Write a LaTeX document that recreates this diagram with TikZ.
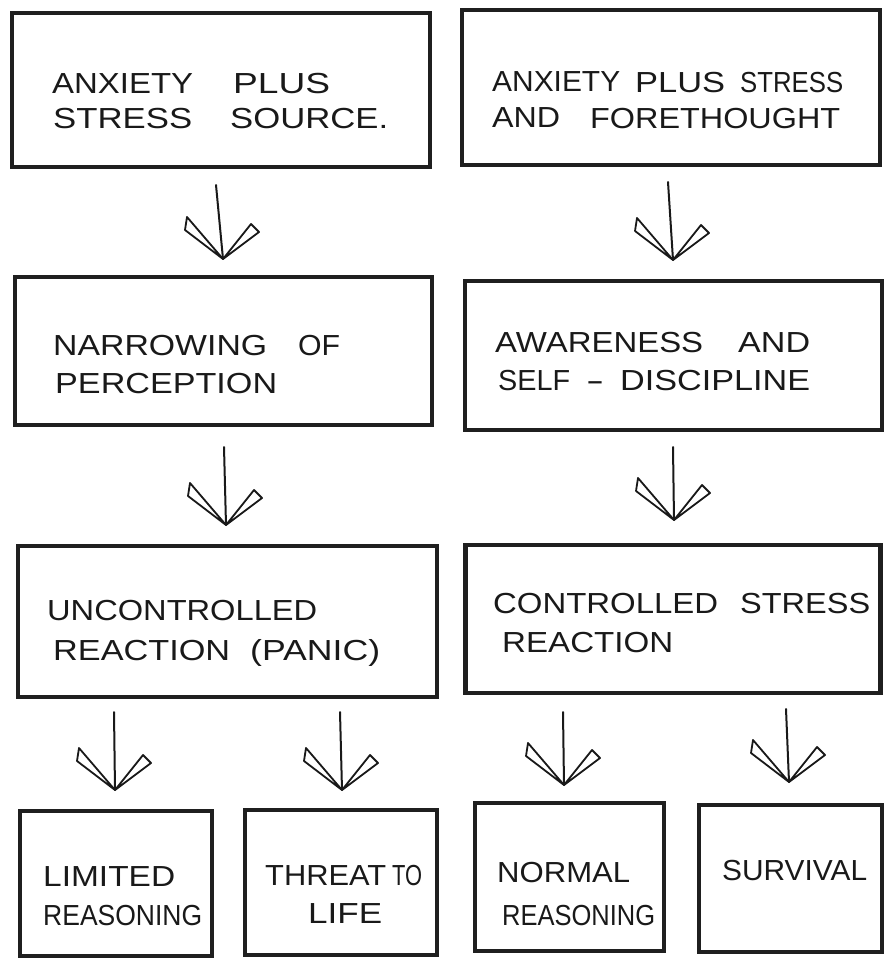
\documentclass[tikz,border=0pt]{standalone}
\usepackage{graphicx}
\usepackage{fontspec}
\setmainfont{Liberation Sans}
\newcommand\sw[2]{\resizebox{#1pt}{\height}{#2}}
\newcommand\hdarrow[2]{%
  \draw[shaft] (#1) -- (#2);
  \draw[fin] (#2) -- ++(-38,-29) -- ++(2,-13) -- cycle;
  \draw[fin] (#2) -- ++(28,-35) -- ++(8,8) -- cycle;}
\begin{document}
\begin{tikzpicture}[x=1pt,y=-1pt,
  box/.style={draw=black!88, line width=4.5pt, rectangle, inner sep=0pt},
  lbl/.style={anchor=base west, inner sep=0pt, font=\fontsize{29}{35}\selectfont, text=black!90},
  shaft/.style={draw=black!90, line width=2pt, line cap=round},
  fin/.style={draw=black!90, line width=1.8pt, line join=round}]
\useasboundingbox (0,0) rectangle (884,958);
% boxes
\node[box, minimum width=418pt, minimum height=154pt] (b1) at (221,90) {};
\node[box, minimum width=418pt, minimum height=155pt] (b2) at (671,87.5) {};
\node[box, minimum width=417pt, minimum height=148pt] (b3) at (223.5,351) {};
\node[box, minimum width=417pt, minimum height=149pt] (b4) at (673.5,355.5) {};
\node[box, minimum width=419pt, minimum height=151pt] (b5) at (227.5,621.5) {};
\node[box, minimum width=415pt, minimum height=148pt] (b6) at (673,619) {};
\node[box, minimum width=192pt, minimum height=145pt] (b7) at (116,883.5) {};
\node[box, minimum width=192pt, minimum height=145pt] (b8) at (341,882.5) {};
\node[box, minimum width=189pt, minimum height=148pt] (b9) at (569.5,877) {};
\node[box, minimum width=183pt, minimum height=147pt] (b10) at (790.5,878.5) {};
% texts
\node[lbl] (t1a) at (52,93) {\hbox to 278pt{\sw{141}{ANXIETY}\hfil\sw{97}{PLUS}}};
\node[lbl] (t1b) at (53,128) {\hbox to 335pt{\sw{139}{STRESS}\hfil\sw{158}{SOURCE.}}};
\node[lbl] (t2a) at (492,92) {\hbox to 351pt{\sw{128}{ANXIETY}\hfil\sw{90}{PLUS}\hfil\sw{103}{STRESS}}};
\node[lbl] (t2b) at (492,128) {\hbox to 348pt{\sw{68}{AND}\hfil\sw{250}{FORETHOUGHT}}};
\node[lbl] (t3a) at (53,355) {\hbox to 287pt{\sw{214}{NARROWING}\hfil\sw{42}{OF}}};
\node[lbl] (t3b) at (55,393) {\sw{222}{PERCEPTION}};
\node[lbl] (t4a) at (495,352) {\hbox to 315pt{\sw{208}{AWARENESS}\hfil\sw{72}{AND}}};
\node[lbl] (t4b) at (498,390) {\hbox to 312pt{\sw{72}{SELF}\hfil\sw{18}{-}\hfil\sw{190}{DISCIPLINE}}};
\node[lbl] (t5a) at (47,620) {\sw{270}{UNCONTROLLED}};
\node[lbl] (t5b) at (53,660) {\hbox to 327pt{\sw{177}{REACTION}\hfil\sw{130}{(PANIC)}}};
\node[lbl] (t6a) at (493,613) {\hbox to 377pt{\sw{225}{CONTROLLED}\hfil\sw{130}{STRESS}}};
\node[lbl] (t6b) at (502,652) {\sw{171}{REACTION}};
\node[lbl] (t7a) at (43,886) {\sw{132}{LIMITED}};
\node[lbl] (t7b) at (43,925) {\sw{159}{REASONING}};
\node[lbl] (t8a) at (265,885) {\hbox to 157pt{\sw{121}{THREAT}\hfil\sw{30}{TO}}};
\node[lbl] (t8b) at (308,923) {\sw{74}{LIFE}};
\node[lbl] (t9a) at (497,882) {\sw{133}{NORMAL}};
\node[lbl] (t9b) at (502,925) {\sw{153}{REASONING}};
\node[lbl] (t10a) at (722,880) {\sw{145}{SURVIVAL}};
% arrows
\coordinate (a1s) at (216,185); \coordinate (a1t) at (223,259);
\coordinate (a2s) at (668,182); \coordinate (a2t) at (673,260);
\coordinate (a3s) at (224,447); \coordinate (a3t) at (226,525);
\coordinate (a4s) at (673,447); \coordinate (a4t) at (674,520);
\coordinate (a5s) at (114,712); \coordinate (a5t) at (115,790);
\coordinate (a6s) at (340,712); \coordinate (a6t) at (342,790);
\coordinate (a7s) at (563,712); \coordinate (a7t) at (564,785);
\coordinate (a8s) at (786,709); \coordinate (a8t) at (789,782);
\hdarrow{a1s}{a1t}
\hdarrow{a2s}{a2t}
\hdarrow{a3s}{a3t}
\hdarrow{a4s}{a4t}
\hdarrow{a5s}{a5t}
\hdarrow{a6s}{a6t}
\hdarrow{a7s}{a7t}
\hdarrow{a8s}{a8t}
\end{tikzpicture}
\end{document}
